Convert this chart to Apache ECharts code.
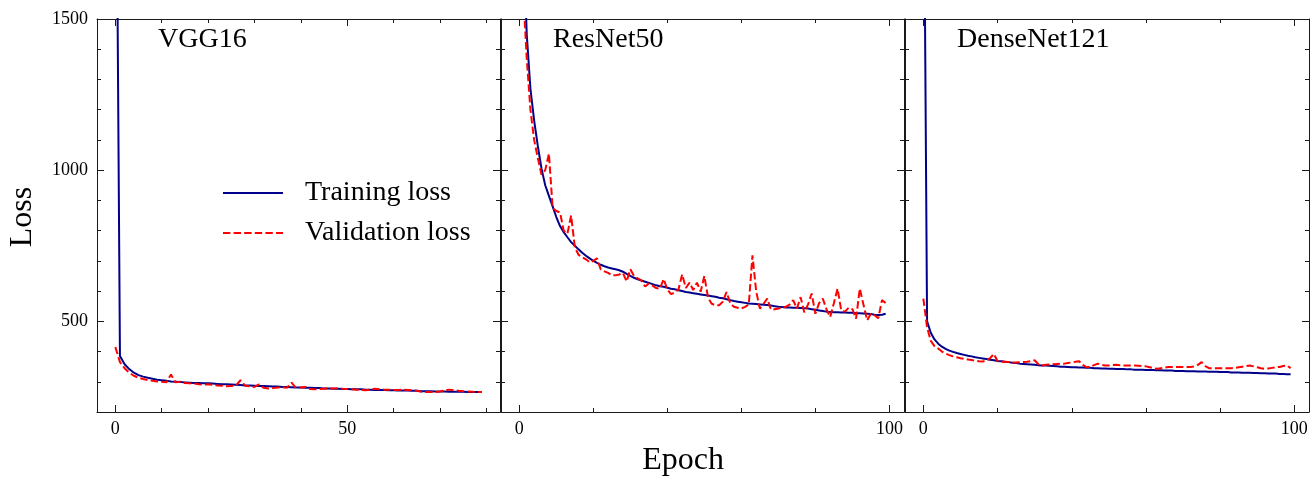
<!DOCTYPE html>
<html>
<head>
<meta charset="utf-8">
<script src="https://cdn.jsdelivr.net/npm/echarts@6/dist/echarts.min.js"></script>
<style>
html,body{margin:0;padding:0;background:#fff;}
#chart{width:1316px;height:477px;}
</style>
</head>
<body>
<div id="chart"></div>
<script>
// ---------------- DATA ----------------
const panelTitles = ['VGG16', 'ResNet50', 'DenseNet121'];
const seriesNames = ['Training loss', 'Validation loss'];
const yMajorTicks = [500, 1000, 1500];
const yMinorTicks = [300, 400, 600, 700, 800, 900, 1100, 1200, 1300, 1400];
const vggXMajorTicks = [0, 50];
const vggXMinorTicks = [10, 20, 30, 40, 60, 70, 80];
const x100MajorTicks = [0, 100];
const x100MinorTicks = [20, 40, 60, 80];

// VGG16 (epochs 0..79)
const vggTrain = [2600, 385, 358, 342, 330, 322, 317, 313, 310, 307,
  305, 303, 301, 300, 299, 298, 297, 296, 296, 295,
  295, 294, 293, 292, 292, 291, 290, 289, 288, 288,
  287, 286, 286, 285, 284, 284, 283, 283, 282, 281,
  281, 280, 280, 279, 279, 278, 278, 277, 277, 276,
  276, 275, 275, 275, 274, 274, 273, 273, 273, 272,
  272, 271, 271, 271, 270, 270, 269, 269, 269, 268,
  268, 268, 267, 267, 267, 267, 266, 266, 266, 266];
const vggVal = [415, 365, 345, 330, 320, 313, 309, 306, 303, 301,
  300, 298, 324, 298, 300, 296, 295, 294, 292, 291,
  292, 290, 288, 287, 285, 286, 287, 305, 287, 285,
  283, 291, 280, 278, 279, 281, 282, 280, 297, 279,
  281, 283, 276, 275, 276, 277, 278, 278, 279, 277,
  276, 275, 274, 273, 272, 274, 277, 275, 274, 274,
  273, 273, 274, 273, 272, 270, 267, 266, 266, 266,
  268, 271, 274, 272, 270, 269, 268, 267, 266, 266];

// ResNet50 (epochs 0..99)
const resTrain = [2600, 1800, 1450, 1270, 1165, 1080, 1005, 950, 915, 880,
  845, 815, 795, 778, 762, 750, 738, 727, 717, 708,
  700, 693, 687, 682, 678, 675, 672, 669, 664, 657,
  650, 644, 639, 635, 631, 627, 623, 619, 616, 614,
  611, 608, 606, 603, 600, 597, 595, 593, 591, 589,
  587, 585, 583, 581, 578, 576, 573, 570, 567, 565,
  563, 561, 559, 558, 557, 556, 555, 554, 552, 550,
  548, 547, 546, 546, 545, 545, 544, 543, 542, 540,
  538, 536, 534, 532, 531, 530, 530, 529, 529, 528,
  528, 527, 527, 526, 525, 524, 522, 521, 522, 525];
const resVal = [2300, 1600, 1370, 1200, 1100, 1040, 985, 1000, 1055, 875,
  865, 860, 800, 790, 850, 745, 720, 712, 705, 695,
  700, 708, 672, 665, 660, 652, 652, 655, 660, 632,
  672, 650, 642, 635, 615, 625, 618, 610, 608, 640,
  605, 590, 595, 605, 655, 610, 628, 603, 628, 598,
  650, 578, 558, 553, 553, 565, 597, 560, 548, 545,
  542, 548, 555, 718, 600, 542, 558, 575, 538, 540,
  542, 545, 548, 555, 570, 542, 580, 530, 555, 592,
  525, 560, 575, 540, 514, 560, 608, 535, 532, 545,
  540, 509, 608, 555, 503, 525, 520, 510, 570, 560];

// DenseNet121 (epochs 0..99)
const denseTrain = [2300, 500, 462, 440, 426, 416, 409, 403, 399, 395,
  392, 389, 386, 384, 381, 379, 377, 375, 373, 371,
  369, 368, 366, 365, 363, 362, 360, 359, 358, 357,
  356, 355, 354, 354, 353, 352, 351, 350, 350, 349,
  348, 348, 347, 347, 346, 346, 345, 345, 344, 344,
  343, 343, 342, 342, 342, 341, 341, 340, 340, 340,
  339, 339, 339, 338, 338, 337, 337, 337, 336, 336,
  336, 335, 335, 335, 334, 334, 334, 333, 333, 333,
  332, 332, 332, 331, 331, 331, 330, 330, 330, 329,
  329, 328, 328, 327, 327, 327, 326, 326, 325, 325];
const denseVal = [575, 480, 435, 418, 410, 400, 393, 388, 384, 381,
  378, 376, 374, 372, 370, 368, 367, 370, 378, 392,
  368, 366, 366, 365, 364, 364, 365, 365, 366, 368,
  371, 358, 354, 356, 357, 358, 359, 360, 360, 362,
  364, 366, 368, 356, 348, 350, 355, 360, 356, 354,
  354, 355, 356, 355, 354, 354, 354, 354, 353, 352,
  351, 348, 345, 343, 345, 347, 349, 349, 349, 349,
  349, 349, 349, 351, 356, 365, 352, 345, 345, 345,
  345, 345, 345, 345, 346, 348, 350, 352, 354, 351,
  348, 345, 343, 344, 346, 348, 349, 352, 354, 345];

// ---------------- LAYOUT / STYLE ----------------
const FONT = '"Liberation Serif", "Times New Roman", serif';
const AXIS_COLOR = '#1a1a1a';
const TRAIN_COLOR = '#00008B';
const VAL_COLOR = '#FF0000';
const panels = [
  {left: 97, width: 403, xMin: -3.95, xMax: 82.95, major: vggXMajorTicks, minor: vggXMinorTicks, train: vggTrain, val: vggVal, yLabels: true},
  {left: 501, width: 403, xMin: -4.95, xMax: 103.95, major: x100MajorTicks, minor: x100MinorTicks, train: resTrain, val: resVal, yLabels: false},
  {left: 905, width: 404, xMin: -4.95, xMax: 103.95, major: x100MajorTicks, minor: x100MinorTicks, train: denseTrain, val: denseVal, yLabels: false}
];
const TOP = 19, HEIGHT = 393, YMIN = 200, YMAX = 1500;

const grids = [], xAxes = [], yAxes = [], series = [];
const plainNum = v => String(v);

function xAx(gi, pos, p, ticks, len, showLine, showLabel) {
  return {
    type: 'value', gridIndex: gi, position: pos, min: p.xMin, max: p.xMax,
    axisLine: {show: showLine, onZero: false, lineStyle: {color: AXIS_COLOR, width: 1}},
    axisTick: {show: true, inside: true, length: len, customValues: ticks, lineStyle: {color: AXIS_COLOR, width: 1}},
    axisLabel: {show: showLabel, customValues: ticks, formatter: plainNum, margin: 8, color: '#000', fontFamily: FONT, fontSize: 18},
    splitLine: {show: false}
  };
}
function yAx(gi, pos, ticks, len, showLine, showLabel) {
  return {
    type: 'value', gridIndex: gi, position: pos, min: YMIN, max: YMAX,
    axisLine: {show: showLine, onZero: false, lineStyle: {color: AXIS_COLOR, width: 1}},
    axisTick: {show: true, inside: true, length: len, customValues: ticks, lineStyle: {color: AXIS_COLOR, width: 1}},
    axisLabel: {show: showLabel, customValues: ticks, formatter: plainNum, margin: 9, color: '#000', fontFamily: FONT, fontSize: 18},
    splitLine: {show: false}
  };
}

panels.forEach((p, pi) => {
  const gMajor = 2 * pi, gMinor = 2 * pi + 1;
  [gMajor, gMinor].forEach(() => grids.push({left: p.left, top: TOP, width: p.width, height: HEIGHT, outerBoundsMode: 'none', containLabel: false}));
  xAxes.push(xAx(gMajor, 'bottom', p, p.major, 7, true, true));
  xAxes.push(xAx(gMajor, 'top', p, p.major, 7, true, false));
  yAxes.push(yAx(gMajor, 'left', yMajorTicks, 7, true, p.yLabels));
  yAxes.push(yAx(gMajor, 'right', yMajorTicks, 7, true, false));
  xAxes.push(xAx(gMinor, 'bottom', p, p.minor, 4, false, false));
  xAxes.push(xAx(gMinor, 'top', p, p.minor, 4, false, false));
  yAxes.push(yAx(gMinor, 'left', yMinorTicks, 4, false, false));
  yAxes.push(yAx(gMinor, 'right', yMinorTicks, 4, false, false));

  const axisIdx = 4 * pi;
  series.push({
    name: seriesNames[0], type: 'line', xAxisIndex: axisIdx, yAxisIndex: axisIdx,
    data: p.train.map((v, i) => [i, v]), symbol: 'none', clip: true, z: 3,
    lineStyle: {color: TRAIN_COLOR, width: 2}, itemStyle: {color: TRAIN_COLOR}, animation: false
  });
  series.push({
    name: seriesNames[1], type: 'line', xAxisIndex: axisIdx, yAxisIndex: axisIdx,
    data: p.val.map((v, i) => [i, v]), symbol: 'none', clip: true, z: 4,
    lineStyle: {color: VAL_COLOR, width: 2, type: [7.4, 3.2]}, itemStyle: {color: VAL_COLOR}, animation: false
  });
});

const titleX = [158, 553, 957];
const graphics = panelTitles.map((t, i) => ({
  type: 'text', x: titleX[i], y: 40, z: 10,
  style: {text: t, fontFamily: FONT, fontSize: 28, fill: '#000', align: 'left', verticalAlign: 'middle'}
}));
graphics.push({type: 'text', x: 683, y: 461, style: {text: 'Epoch', fontFamily: FONT, fontSize: 32, fill: '#000', align: 'center', verticalAlign: 'middle'}});
graphics.push({type: 'text', x: 23, y: 217, rotation: Math.PI / 2, style: {text: 'Loss', fontFamily: FONT, fontSize: 32, fill: '#000', align: 'center', verticalAlign: 'middle'}});

const chart = echarts.init(document.getElementById('chart'), null, {renderer: 'canvas'});
chart.setOption({
  backgroundColor: '#fff',
  animation: false,
  grid: grids,
  xAxis: xAxes,
  yAxis: yAxes,
  legend: {
    data: seriesNames, orient: 'vertical', left: 222, top: 179, padding: 0,
    itemWidth: 60, itemHeight: 14, itemGap: 12,
    itemStyle: {opacity: 0},
    textStyle: {fontFamily: FONT, fontSize: 28, color: '#000', padding: [0, 0, 0, 17]}
  },
  graphic: graphics,
  series: series
});
</script>
</body>
</html>
